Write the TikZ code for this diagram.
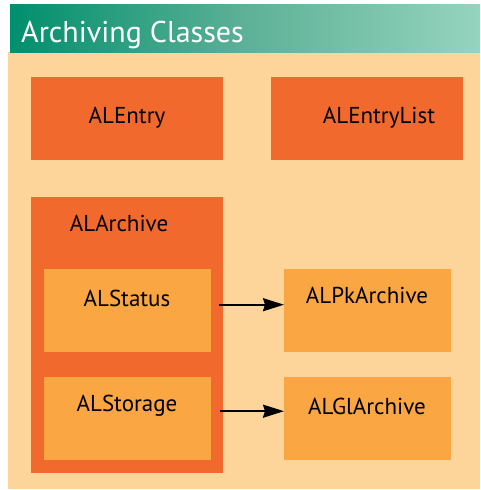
\documentclass[tikz,border=0pt]{standalone}
\usepackage{fontspec}
\setmainfont{PT Sans}
\usetikzlibrary{arrows.meta}
\definecolor{bgorange}{HTML}{FDD59B}
\definecolor{darkorange}{HTML}{F2692D}
\definecolor{litorange}{HTML}{F9A643}
\definecolor{greenA}{HTML}{008F6D}
\definecolor{greenB}{HTML}{5DB196}
\definecolor{greenC}{HTML}{95D4BF}
\tikzset{
  outerbox/.style={fill=darkorange, draw=none, inner sep=0pt, anchor=north west},
  innerbox/.style={fill=litorange, draw=none, inner sep=0pt, anchor=north west},
  lbl/.style={font=\fontsize{23}{25}\selectfont, text=black, inner sep=0pt},
  arr/.style={line width=2pt, -{Stealth[length=21pt,width=13pt,inset=2pt]}}
}
\begin{document}
\begin{tikzpicture}[x=1pt,y=-1pt]
\useasboundingbox (0,0) rectangle (480,490);
\fill[white] (0,0) rectangle (480,490);
\fill[bgorange] (8,52) rectangle (480,489);
\shade[left color=greenA, right color=greenC, middle color=greenB] (10,4) rectangle (480,52);
\node[anchor=base west, text=white, font=\fontsize{30}{32}\selectfont, inner sep=0pt] (title) at (21,42) {Archiving Classes};

\node[outerbox, minimum width=192pt, minimum height=83pt] (entry) at (31,77) {};
\node[outerbox, minimum width=192pt, minimum height=83pt] (entrylist) at (271,77) {};
\node[outerbox, minimum width=192pt, minimum height=276pt] (archive) at (31,197) {};
\node[innerbox, minimum width=167pt, minimum height=83pt] (status) at (44,269) {};
\node[innerbox, minimum width=167pt, minimum height=83pt] (storage) at (44,377) {};
\node[innerbox, minimum width=167pt, minimum height=83pt] (pk) at (284,269) {};
\node[innerbox, minimum width=167pt, minimum height=83pt] (gl) at (284,377) {};

\node[lbl] (tentry) at (127,118) {ALEntry};
\node[lbl] (tentrylist) at (379,118) {ALEntryList};
\node[lbl] (tarchive) at (119,223) {ALArchive};
\node[lbl] (tstatus) at (127,298) {ALStatus};
\node[lbl] (tstorage) at (127,406) {ALStorage};
\node[lbl] (tpk) at (367,295) {ALPkArchive};
\node[lbl] (tgl) at (367,406) {ALGlArchive};

\draw[arr] ([xshift=8pt,yshift=6pt]status.east) -- ([yshift=6pt]pk.west);
\draw[arr] ([xshift=9pt,yshift=7.5pt]storage.east) -- ([yshift=7.5pt]gl.west);
\end{tikzpicture}
\end{document}
